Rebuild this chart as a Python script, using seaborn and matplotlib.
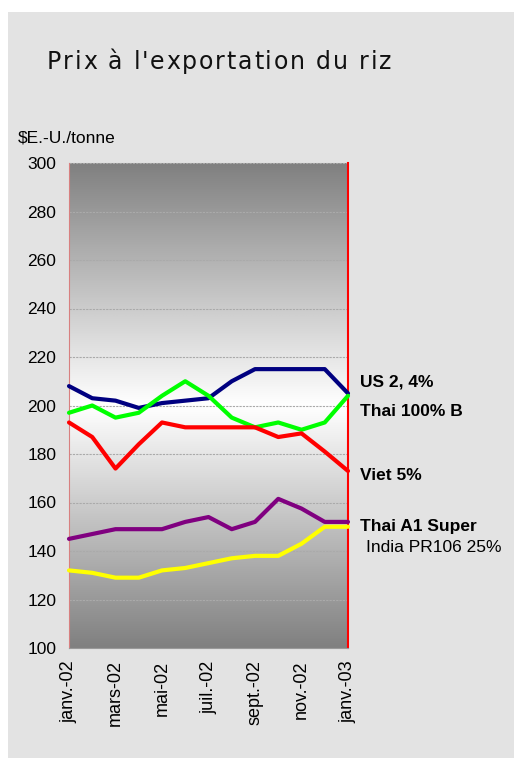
import numpy as np
import pandas as pd
import matplotlib.pyplot as plt
import seaborn as sns
from matplotlib.font_manager import FontProperties
from matplotlib.textpath import TextToPath

# Monthly export prices, janv.-02 .. janv.-03
months = ["janv.-02", "févr.-02", "mars-02", "avr.-02", "mai-02", "juin-02", "juil.-02",
          "août-02", "sept.-02", "oct.-02", "nov.-02", "déc.-02", "janv.-03"]
us_2_4 = [208, 203, 202, 199, 201, 202, 203, 210, 215, 215, 215, 215, 205]
thai_100b = [197, 200, 195, 197, 204, 210, 204, 195, 191, 193, 190, 193, 204]
viet_5 = [193, 187, 174, 184, 193, 191, 191, 191, 191, 187, 188.5, 181, 173]
thai_a1 = [145, 147, 149, 149, 149, 152, 154, 149, 152, 161.5, 157.5, 152, 152]
india_pr106 = [132, 131, 129, 129, 132, 133, 135, 137, 138, 138, 143, 150, 150]

series = {
    "US 2, 4%": us_2_4,
    "Thai 100% B": thai_100b,
    "Viet 5%": viet_5,
    "Thai A1 Super": thai_a1,
    "India PR106 25%": india_pr106,
}
colors = {
    "US 2, 4%": "#000080",
    "Thai 100% B": "#00ff00",
    "Viet 5%": "#ff0000",
    "Thai A1 Super": "#800080",
    "India PR106 25%": "#ffff00",
}

rows = []
for name, vals in series.items():
    for i, v in enumerate(vals):
        rows.append({"mois": i, "prix": v, "serie": name})
df = pd.DataFrame(rows)

sns.set_style("white")
plt.rcParams["font.family"] = ["Liberation Sans", "DejaVu Sans"]
plt.rcParams["text.color"] = "black"
plt.rcParams["xtick.color"] = "black"
plt.rcParams["ytick.color"] = "black"

fig = plt.figure(figsize=(5.14, 7.58), dpi=100)
fig.patch.set_facecolor("white")
# grey panel behind the chart
panel = plt.Rectangle((8 / 514, 0), 1, 1 - 12 / 758, transform=fig.transFigure,
                      facecolor="#e3e3e3", edgecolor="none", zorder=-10)
fig.add_artist(panel)

ax = fig.add_axes([69 / 514, 1 - 648 / 758, (348 - 69) / 514, (648 - 163) / 758])
ax.set_zorder(5)
ax.patch.set_alpha(0)

# vertical grey-white-grey gradient
grad = 1 - np.abs(np.linspace(-1, 1, 256))
grad = 0.5 + 0.5 * grad
ax.imshow(grad.reshape(-1, 1), extent=[0, 12, 100, 300], aspect="auto",
          cmap="gray", vmin=0, vmax=1, zorder=0, interpolation="bicubic")

for y in range(120, 320, 20):
    ax.axhline(y, color="#aaaaaa", lw=0.8, ls=(0, (2, 1)), zorder=1)

sns.lineplot(data=df, x="mois", y="prix", hue="serie", palette=colors,
             linewidth=3, legend=False, ax=ax, zorder=3)
for ln in ax.get_lines():
    ln.set_clip_on(False)

ax.set_xlim(0, 12)
ax.set_ylim(100, 300)
ax.set_xticks(range(13))
ax.set_xticklabels([m if i % 2 == 0 else "" for i, m in enumerate(months)],
                   rotation=90, fontsize=13)
ax.set_yticks(range(100, 320, 20))
ax.set_yticklabels([str(v) for v in range(100, 320, 20)], fontsize=12.5)
ax.tick_params(axis="both", direction="out", length=5, width=1, color="#888888", pad=4)
ax.set_xlabel("")
ax.set_ylabel("")

ax.spines["left"].set_color("#d88080")
ax.spines["right"].set_color("#ff0000")
ax.spines["right"].set_linewidth(1.5)
ax.spines["top"].set_visible(False)
ax.spines["bottom"].set_color("#999999")

# letter-spaced title
title = "Prix à l'exportation du riz"
prop = FontProperties(family="DejaVu Sans", size=17)
ttp = TextToPath()
x = 47.0
for ch in title:
    fig.text(x / 514, 1 - 62 / 758, ch, fontproperties=prop, va="center", ha="left",
             color="#111111")
    w, _, _ = ttp.get_text_width_height_descent(ch, prop, ismath=False)
    x += w * 100 / 72 + 1.8

fig.text(18 / 514, 1 - 138 / 758, "\\$E.-U./tonne", fontsize=12.5, va="center", ha="left")

labels = [("US 2, 4%", 382, 360, "bold"), ("Thai 100% B", 411, 360, "bold"),
          ("Viet 5%", 475, 360, "bold"), ("Thai A1 Super", 527, 360, "bold"),
          ("India PR106 25%", 548, 366, "normal")]
for txt, ypix, xpix, w in labels:
    fig.text(xpix / 514, 1 - ypix / 758, txt, fontsize=12.5, fontweight=w,
             va="center", ha="left")

fig.savefig("out.png", dpi=100, facecolor=fig.get_facecolor())
